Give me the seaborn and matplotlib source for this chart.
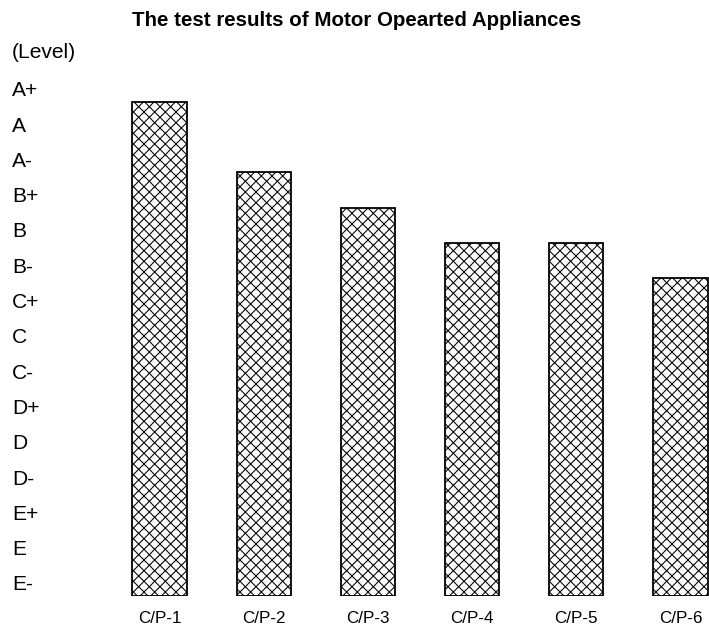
import numpy as np
import pandas as pd
import matplotlib
matplotlib.use("Agg")
import matplotlib.pyplot as plt
import seaborn as sns

# Products tested and the grade scale (lowest to highest)
products = ["C/P-1", "C/P-2", "C/P-3", "C/P-4", "C/P-5", "C/P-6"]
levels = ["E-", "E", "E+", "D-", "D", "D+", "C-", "C", "C+",
          "B-", "B", "B+", "A-", "A", "A+"]
# Bar heights in level bands: each bar reaches the top of its band
# (A, B+, B, B-, B-, C+)
scores = [14, 12, 11, 10, 10, 9]

title = "The test results of Motor Opearted Appliances"

sns.set_style("white")
plt.rcParams["font.family"] = ["Liberation Sans", "DejaVu Sans"]
plt.rcParams["hatch.linewidth"] = 1.2
plt.rcParams["text.color"] = "black"
plt.rcParams["xtick.color"] = "black"
plt.rcParams["ytick.color"] = "black"

DPI = 64
W, H = 709, 628


def pt(pixels):
    """Convert a size in pixels to points at the figure resolution."""
    return pixels * 72 / DPI


fig = plt.figure(figsize=(W / DPI, H / DPI), dpi=DPI)
fig.patch.set_facecolor("white")

step_x = 104.2      # pixels between bar centres
step_y = 35.3       # pixels per level band
ax_left, ax_bottom, ax_w, ax_h = 107.4, 596, 601.6, 556
ax = fig.add_axes([ax_left / W, (H - ax_bottom) / H, ax_w / W, ax_h / H])

df = pd.DataFrame({"product": products, "score": scores})
sns.barplot(data=df, x="product", y="score", color="white",
            edgecolor="black", linewidth=pt(1.8), width=0.52,
            hatch="xx", ax=ax)

ax.set_xlim(-0.5, -0.5 + ax_w / step_x)
ax.set_ylim(0, ax_h / step_y)

for s in ax.spines.values():
    s.set_visible(False)
ax.set_xlabel("")
ax.set_ylabel("")

# level names beside the bands, left aligned at the figure edge
ax.set_yticks(np.arange(len(levels)) + 0.37)
ax.set_yticklabels(levels)
ax.tick_params(axis="y", length=0, pad=pt(ax_left - 12), labelsize=pt(21))
for lab in ax.get_yticklabels():
    lab.set_horizontalalignment("left")

ax.tick_params(axis="x", length=0, pad=pt(15), labelsize=pt(17))

fig.text(12 / W, 1 - 52 / H, "(Level)", ha="left", va="center",
         fontsize=pt(21))
fig.text(357 / W, 1 - 20 / H, title, ha="center", va="center",
         fontsize=pt(20.5), fontweight="bold")

fig.savefig("out.png", dpi=DPI, facecolor="white")
